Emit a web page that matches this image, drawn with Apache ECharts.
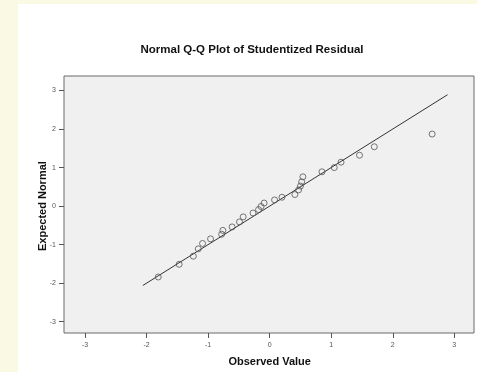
<!DOCTYPE html>
<html>
<head>
<meta charset="utf-8">
<script src="https://cdn.jsdelivr.net/npm/echarts@6/dist/echarts.min.js"></script>
<style>
    html, body {
        margin: 0;
        padding: 0;
        background: #faf9e4;
    }
    .wrapper {
        position: relative;
        width: 477px;
        height: 372px;
        background: #faf9e4;
    }
    .chart {
        position: absolute;
        left: 18px;
        top: 4px;
        width: 459px;
        height: 368px;
        background: #ffffff;
    }
</style>
</head>
<body>
<div class="wrapper">
    <div class="chart" id="chart"></div>
</div>
<script>
// observed studentized residuals and their expected normal values
const observed = [-1.81, -1.47, -1.24, -1.16, -1.09, -0.96, -0.78, -0.76, -0.61, -0.49,
    -0.43, -0.27, -0.18, -0.14, -0.09, 0.08, 0.20, 0.41, 0.47, 0.50,
    0.52, 0.54, 0.85, 1.05, 1.16, 1.46, 1.70, 2.64];
const expected = [-1.84, -1.51, -1.30, -1.11, -0.97, -0.85, -0.73, -0.63, -0.54, -0.41,
    -0.28, -0.18, -0.09, -0.01, 0.08, 0.16, 0.23, 0.30, 0.42, 0.52,
    0.63, 0.76, 0.89, 1.00, 1.14, 1.32, 1.54, 1.87];
// reference line y = x
const refLine = [[-2.06, -2.06], [2.89, 2.89]];

const mychart = echarts.init(document.getElementById("chart"));

const labelStyle = {
    color: "#555",
    fontSize: 7,
    fontFamily: "Liberation Sans, Arial, sans-serif",
};
const nameStyle = {
    color: "#111",
    fontSize: 11,
    fontWeight: "bold",
    fontFamily: "Liberation Sans, Arial, sans-serif",
};

const option = {
    animation: false,
    title: {
        text: "Normal Q-Q Plot of Studentized Residual",
        left: 229,
        top: 35,
        textAlign: "center",
        textStyle: {
            color: "#111",
            fontSize: 11.5,
            fontWeight: "bold",
            fontFamily: "Liberation Sans, Arial, sans-serif",
        },
    },
    grid: [
        {
            // frame of the plot
            show: true,
            left: 46,
            top: 72,
            width: 410,
            height: 257,
            backgroundColor: "#f0f0f0",
            borderColor: "#6a6a6a",
            borderWidth: 1,
        },
        {
            // data area, -3..3 on both axes
            left: 67,
            top: 86.5,
            width: 369.3,
            height: 231.2,
        },
    ],
    xAxis: [
        { gridIndex: 0, type: "value", show: false, min: 0, max: 1 },
        {
            gridIndex: 1,
            type: "value",
            min: -3,
            max: 3,
            interval: 1,
            offset: 11.3,
            name: "Observed Value",
            nameLocation: "middle",
            nameGap: 23,
            nameMoveOverlap: false,
            nameTextStyle: nameStyle,
            axisLine: { show: false, onZero: false },
            axisTick: { show: true, length: 5, lineStyle: { color: "#555" } },
            axisLabel: Object.assign({ margin: 9 }, labelStyle),
            splitLine: { show: false },
        },
    ],
    yAxis: [
        { gridIndex: 0, type: "value", show: false, min: 0, max: 1 },
        {
            gridIndex: 1,
            type: "value",
            min: -3,
            max: 3,
            interval: 1,
            offset: 21,
            name: "Expected Normal",
            nameLocation: "middle",
            nameGap: 16,
            nameMoveOverlap: false,
            nameTextStyle: nameStyle,
            axisLine: { show: false, onZero: false },
            axisTick: { show: true, length: 5, lineStyle: { color: "#555" } },
            axisLabel: Object.assign({ margin: 8 }, labelStyle),
            splitLine: { show: false },
        },
    ],
    series: [
        {
            name: "reference",
            type: "line",
            xAxisIndex: 1,
            yAxisIndex: 1,
            data: refLine,
            symbol: "none",
            lineStyle: { color: "#333", width: 1 },
            z: 2,
        },
        {
            name: "residuals",
            type: "scatter",
            xAxisIndex: 1,
            yAxisIndex: 1,
            data: observed.map((v, i) => [v, expected[i]]),
            symbol: "circle",
            symbolSize: 6,
            itemStyle: {
                color: "rgba(0,0,0,0)",
                borderColor: "#555",
                borderWidth: 1,
            },
            z: 3,
        },
    ],
};

mychart.setOption(option);
</script>
</body>
</html>
